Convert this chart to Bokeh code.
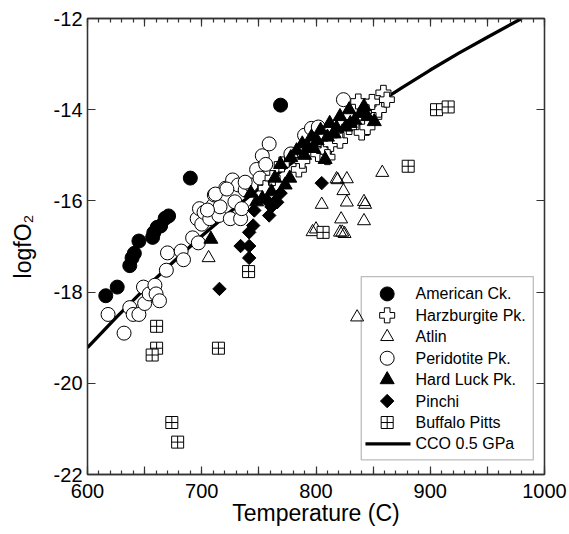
from bokeh.plotting import figure
from bokeh.models import LinearAxis, FixedTicker, Range1d, BoxAnnotation
from bokeh.core.properties import value
from bokeh.embed import file_html
from bokeh.resources import INLINE
import numpy as np

# ---------------- data ----------------
american_t = [616, 626, 637, 639, 641, 645, 657, 658, 661, 664, 668, 671, 690, 769]
american_y = [-18.08, -17.89, -17.42, -17.25, -17.15, -16.88, -16.80, -16.70, -16.58,
              -16.55, -16.38, -16.33, -15.50, -13.90]

harz_t = [756, 762, 770, 785, 788, 802, 807, 813, 818, 821, 829, 837, 840, 845, 848,
          851, 855, 859, 862, 849, 810]
harz_y = [-15.72, -15.50, -15.20, -15.31, -15.12, -14.97, -14.90, -14.75, -14.56, -14.68,
          -14.38, -13.82, -14.50, -14.38, -13.93, -14.15, -14.00, -13.63, -13.78, -13.83, -15.04]

atlin_t = [706, 797, 800, 805, 819, 818, 823, 825, 822, 824, 827, 827, 842, 843, 842, 858, 836, 821]
atlin_y = [-17.25, -16.68, -16.62, -16.08, -15.54, -15.52, -16.69, -16.72, -16.40, -15.78,
           -15.52, -16.03, -16.02, -16.08, -16.44, -15.38, -18.55, -16.69]

perid_t = [618, 632, 637, 640, 645, 649, 650, 654, 659, 660, 663, 669, 670, 682, 684, 692,
           697, 696, 700, 698, 702, 707, 710, 715, 711, 716, 721, 725, 729, 727, 732, 734,
           735, 738, 743, 748, 751, 753, 759, 756, 778, 790, 796, 802, 824, 705, 712, 722, 738]
perid_y = [-18.49, -18.90, -18.34, -18.49, -18.49, -17.89, -18.25, -18.04, -17.85, -18.04,
           -18.19, -17.52, -17.14, -17.10, -17.29, -16.81, -16.92, -16.39, -16.51, -16.17,
           -16.25, -16.39, -16.10, -16.32, -15.87, -16.13, -15.72, -16.39, -16.02, -15.54,
           -15.65, -16.39, -16.17, -15.76, -15.65, -15.31, -15.50, -15.01, -14.75, -15.20,
           -14.97, -14.56, -14.41, -14.38, -13.78, -16.20, -15.85, -15.74, -15.59]

hard_t = [708, 743, 748, 753, 761, 764, 769, 773, 777, 778, 783, 788, 793, 796, 801, 804,
          808, 812, 816, 821, 826, 829, 834, 839, 842, 845, 851, 790, 798, 810, 818, 830]
hard_y = [-16.84, -15.83, -16.02, -15.95, -15.80, -15.50, -15.20, -15.65, -15.50, -15.05,
          -14.90, -14.75, -14.82, -14.60, -14.68, -14.45, -15.09, -14.30, -14.53, -14.15,
          -14.38, -14.00, -14.23, -14.08, -13.93, -14.15, -14.26, -15.00, -14.85, -14.60,
          -14.40, -14.30]

pinchi_t = [715.5, 734, 741.5, 741.5, 741.5, 745, 746, 759, 761, 764, 769, 805, 757, 766]
pinchi_y = [-17.93, -16.99, -16.99, -17.25, -16.69, -16.54, -16.21, -16.32, -16.13, -16.02,
            -15.83, -15.61, -15.99, -16.03]

buff_t = [660.5, 660.5, 656.6, 714.6, 741, 673.8, 678.9, 806.2, 880.7, 905.5, 915.7]
buff_y = [-18.75, -19.23, -19.38, -19.23, -17.55, -20.86, -21.29, -16.69, -15.24, -14.00, -13.94]

cco_t = [600, 625, 650, 675, 700, 725, 750, 775, 800, 825, 850, 875, 900, 925, 950, 980]
cco_y = [-19.22, -18.56, -17.93, -17.34, -16.77, -16.24, -15.73, -15.24, -14.78, -14.34,
         -13.92, -13.52, -13.13, -12.76, -12.41, -12.00]

x_ticks = [600, 650, 700, 750, 800, 850, 900, 950, 1000]
x_labels = ["600", "", "700", "", "800", "", "900", "", "1000"]
y_ticks = [-22, -20, -18, -16, -14, -12]
y_labels = ["-22", "-20", "-18", "-16", "-14", "-12"]

legend_names = ["American Ck.", "Harzburgite Pk.", "Atlin", "Peridotite Pk.",
                "Hard Luck Pk.", "Pinchi", "Buffalo Pitts", "CCO 0.5 GPa"]

# ---------------- figure ----------------
FONT = "Liberation Sans"
AX = "#333333"

p = figure(width=569, height=534, output_backend="svg", toolbar_location=None,
           x_range=Range1d(600, 1000), y_range=Range1d(-22, -12),
           min_border_left=87, min_border_right=25, min_border_top=18, min_border_bottom=60)
p.xgrid.visible = False
p.ygrid.visible = False
p.outline_line_color = AX
p.outline_line_width = 1.3
p.background_fill_color = "white"
p.border_fill_color = "white"

bottom = p.below[0]
left = p.left[0]

xminor = list(range(600, 1001, 10))
xt = FixedTicker(ticks=x_ticks, minor_ticks=xminor)
yt = FixedTicker(ticks=y_ticks, minor_ticks=[])

top = LinearAxis(ticker=xt)
right = LinearAxis(ticker=yt)
p.add_layout(top, "above")
p.add_layout(right, "right")
bottom.ticker = xt
left.ticker = yt

for ax in [bottom, left, top, right]:
    ax.axis_line_color = AX
    ax.axis_line_width = 1.3
    ax.major_tick_line_color = AX
    ax.minor_tick_line_color = AX
    ax.major_tick_line_width = 1.2
    ax.minor_tick_line_width = 1.2
    ax.major_tick_in = 8
    ax.major_tick_out = 0
    ax.minor_tick_in = 4
    ax.minor_tick_out = 0
    ax.major_label_text_font = FONT
    ax.major_label_text_font_size = "20px"
    ax.major_label_text_color = "black"

for ax in [top, right]:
    ax.major_label_text_font_size = "1px"
    ax.major_label_text_color = None
    ax.major_label_standoff = 0

bottom.major_label_overrides = dict(zip(x_ticks, x_labels))
left.major_label_overrides = dict(zip(y_ticks, y_labels))
bottom.major_label_standoff = 9
left.major_label_standoff = 5

bottom.axis_label = "Temperature (C)"
left.axis_label = "logfO\u2082"
for ax in [bottom, left]:
    ax.axis_label_text_font = FONT
    ax.axis_label_text_font_size = "23px"
    ax.axis_label_text_font_style = "normal"
    ax.axis_label_text_color = "black"
bottom.axis_label_standoff = -1
left.axis_label_standoff = 15

# ---------------- glyphs ----------------
styles = {
    "am": dict(marker="circle", size=14, fill_color="black", line_color="black", line_width=1),
    "hz": dict(marker="plus", size=15, fill_color="white", line_color="black", line_width=1),
    "at": dict(marker="triangle", size=13, fill_color=None, line_color="black", line_width=1),
    "pe": dict(marker="circle", size=14, fill_color="white", line_color="black", line_width=1),
    "hl": dict(marker="triangle", size=14, fill_color="black", line_color="black", line_width=1),
    "pi": dict(marker="square", size=9.5, angle=np.pi / 4, fill_color="black",
               line_color="black", line_width=1),
    "bu": dict(marker="square_cross", size=12, fill_color="white", line_color="black", line_width=1),
}

p.line(cco_t, cco_y, line_color="black", line_width=3.3)
p.scatter(american_t, american_y, **styles["am"])
p.scatter(perid_t, perid_y, **styles["pe"])
p.scatter(atlin_t, atlin_y, **styles["at"])
p.scatter(harz_t, harz_y, **styles["hz"])
p.scatter(hard_t, hard_y, **styles["hl"])
p.scatter(pinchi_t, pinchi_y, **styles["pi"])
p.scatter(buff_t, buff_y, **styles["bu"])

# ---------------- legend (drawn in data space, lower right) ----------------
L_LEFT, L_RIGHT, L_TOP, L_BOTTOM = 839.6, 990.2, -17.66, -21.68
ROW0, ROW_STEP = -18.04, 0.470
GLYPH_X, TEXT_X = 862.3, 887.1
rows = [ROW0 - i * ROW_STEP for i in range(len(legend_names))]

p.add_layout(BoxAnnotation(left=L_LEFT, right=L_RIGHT, top=L_TOP, bottom=L_BOTTOM,
                           fill_color="white", fill_alpha=1.0, line_color="#222222",
                           line_width=1.3, level="underlay"))
for key, ry in zip(["am", "hz", "at", "pe", "hl", "pi", "bu"], rows[:7]):
    p.scatter([GLYPH_X], [ry], **styles[key])
p.line([843.3, 882.7], [rows[7], rows[7]], line_color="black", line_width=3.3)
p.text(x=[TEXT_X] * len(legend_names), y=rows, text=legend_names,
       text_font=value(FONT), text_font_size="16px", text_baseline="middle",
       text_align="left", text_color="black")

open("out.html", "w").write(file_html(p, INLINE))
